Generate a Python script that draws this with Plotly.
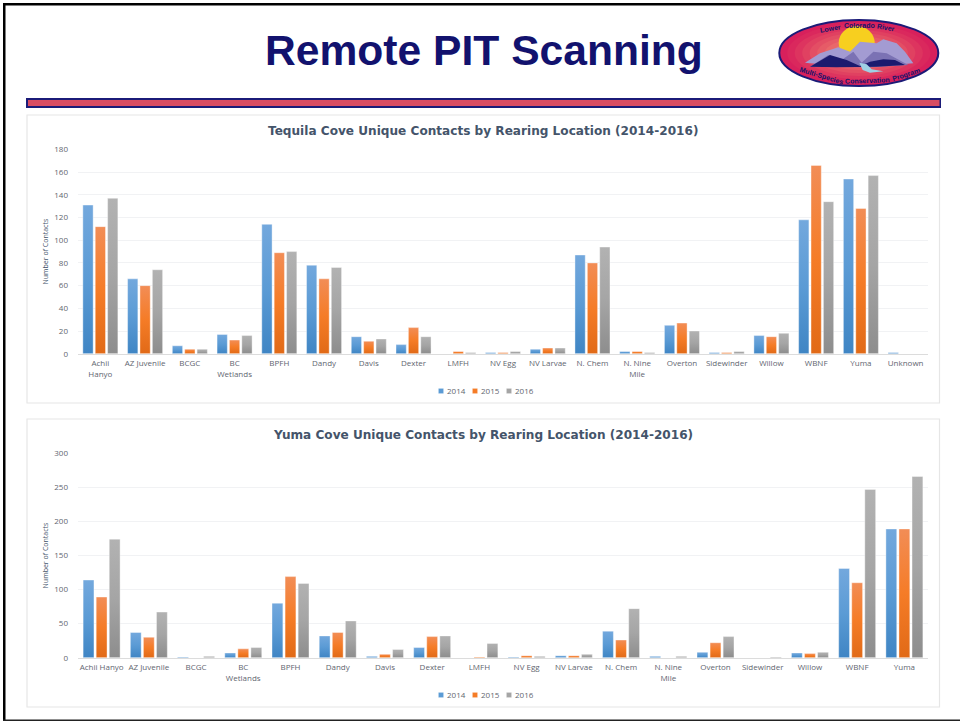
import plotly.graph_objects as go

W, H = 960, 721

YEARS = ["2014", "2015", "2016"]
BASE_COLORS = ["#5b9bd5", "#f57c27", "#a5a5a5"]

TEQUILA_CATS = ["Achii<br>Hanyo", "AZ Juvenile", "BCGC", "BC<br>Wetlands", "BPFH", "Dandy", "Davis", "Dexter",
                "LMFH", "NV Egg", "NV Larvae", "N. Chem", "N. Nine<br>Mile", "Overton", "Sidewinder",
                "Willow", "WBNF", "Yuma", "Unknown"]
TEQUILA_2014 = [131, 66, 7, 17, 114, 78, 15, 8, 0, 1, 4, 87, 2, 25, 1, 16, 118, 154, 1]
TEQUILA_2015 = [112, 60, 4, 12, 89, 66, 11, 23, 2, 1, 5, 80, 2, 27, 1, 15, 166, 128, 0]
TEQUILA_2016 = [137, 74, 4, 16, 90, 76, 13, 15, 1, 2, 5, 94, 1, 20, 2, 18, 134, 157, 0]

YUMA_CATS = ["Achii Hanyo", "AZ Juvenile", "BCGC", "BC<br>Wetlands", "BPFH", "Dandy", "Davis", "Dexter",
             "LMFH", "NV Egg", "NV Larvae", "N. Chem", "N. Nine<br>Mile", "Overton", "Sidewinder",
             "Willow", "WBNF", "Yuma"]
YUMA_2014 = [114, 37, 1, 7, 80, 32, 2, 15, 0, 1, 3, 39, 2, 8, 0, 7, 131, 189]
YUMA_2015 = [89, 30, 0, 13, 119, 37, 5, 31, 1, 3, 3, 26, 0, 22, 0, 6, 110, 189]
YUMA_2016 = [174, 67, 2, 15, 109, 54, 12, 32, 21, 2, 5, 72, 2, 31, 1, 8, 247, 266]

MAIN_TITLE = "Remote PIT Scanning"
TITLE_1 = "Tequila Cove Unique Contacts by Rearing Location (2014-2016)"
TITLE_2 = "Yuma Cove Unique Contacts by Rearing Location (2014-2016)"
Y_TITLE = "Number of Contacts"

FONT = "Open Sans"
INK = "#5f6670"
HEAD = "#44546a"


def px(x):
    return x / W


def py(y):
    return 1 - y / H


fig = go.Figure()
for name, color, vals in zip(YEARS, BASE_COLORS, [TEQUILA_2014, TEQUILA_2015, TEQUILA_2016]):
    fig.add_bar(x=TEQUILA_CATS, y=vals, name=name, marker=dict(color=color, line=dict(color="rgba(255,255,255,.55)", width=0.7)),
                xaxis="x", yaxis="y", legend="legend")
for name, color, vals in zip(YEARS, BASE_COLORS, [YUMA_2014, YUMA_2015, YUMA_2016]):
    fig.add_bar(x=YUMA_CATS, y=vals, name=name, marker=dict(color=color, line=dict(color="rgba(255,255,255,.55)", width=0.7)),
                xaxis="x2", yaxis="y2", legend="legend2")

shapes = []


def rect(x0, y0, x1, y1, fill, line=None, lw=0, layer="below"):
    shapes.append(dict(type="rect", xref="paper", yref="paper", x0=px(x0), x1=px(x1), y0=py(y1), y1=py(y0),
                       fillcolor=fill, line=dict(color=line or fill, width=lw), layer=layer))


def ellipse(cx, cy, rx, ry, fill, line=None, lw=0):
    shapes.append(dict(type="circle", xref="paper", yref="paper", x0=px(cx - rx), x1=px(cx + rx),
                       y0=py(cy + ry), y1=py(cy - ry), fillcolor=fill,
                       line=dict(color=line or fill, width=lw), layer="above"))


def zoomx(z):
    return 770 + z / 3


def zoomy(z):
    return 10 + z / 3


def poly(points, fill):
    # logo polygons use paper coordinates derived from pixel positions
    path = "M " + " L ".join(f"{px(zoomx(a)):.5f} {py(zoomy(b)):.5f}" for a, b in points) + " Z"
    shapes.append(dict(type="path", xref="paper", yref="paper", path=path, fillcolor=fill,
                       line=dict(width=0), layer="above"))


# slide frame
rect(3, 3, 5.5, 721, "#000000")
rect(3, 3, 960, 5.5, "#000000")
rect(3, 719.6, 960, 721, "#222222")
# banner
rect(26, 98, 941, 108, "#1b1b78")
rect(28, 100, 939.5, 106, "#d94c62")
# chart panels
rect(27, 115, 939.5, 403, "#ffffff", "#e6e6e6", 1.2)
rect(27, 419, 939.5, 707, "#ffffff", "#e6e6e6", 1.2)

# logo: red rim fading to a salmon centre
ellipse(858.8, 53, 79.5, 33, "#d8205c", "#1b1b78", 2)
LOGO_RAMP = ["#da285d", "#dd345f", "#e04161", "#e34e64", "#e65b67", "#e9686a", "#eb736c", "#ed7d6e"]
for i, c in enumerate(LOGO_RAMP):
    f = 1 - (i + 1) / (len(LOGO_RAMP) + 1) * 0.85
    ellipse(858.8, 53, 79 * f, 32 * f, c)
ellipse(856.7, 43, 18, 17, "#f7cf1f")
poly([(105, 158), (150, 130), (205, 112), (240, 125), (270, 95), (320, 100), (340, 88), (380, 100),
      (405, 125), (430, 160), (300, 170), (180, 165)], "#a39bd2")
poly([(120, 170), (175, 135), (215, 150), (250, 125), (275, 158), (310, 125), (350, 130), (415, 165),
      (300, 172)], "#7b72b4")
poly([(120, 170), (180, 135), (230, 150), (270, 168), (300, 155), (340, 148), (375, 150), (405, 165),
      (320, 170), (200, 172)], "#1c1a6e")
poly([(268, 158), (290, 163), (305, 178), (340, 184), (300, 188), (278, 180)], "#9fd0e4")

LOGO_WORDS = [("Lower", 181, 55, -10), ("Colorado", 267, 47, 0), ("River", 347, 53, 10),
              ("Multi-Species", 153, 197, 17), ("Conservation", 292, 212, -2), ("Program", 408, 196, -18)]

annotations = [
    dict(text=MAIN_TITLE, x=px(484), y=py(50), xref="paper", yref="paper", showarrow=False,
         xanchor="center", yanchor="middle",
         font=dict(family="Liberation Sans", size=42.6, color="#12126e", weight="bold")),
    dict(text=TITLE_1, x=px(483), y=py(131), xref="paper", yref="paper", showarrow=False,
         xanchor="center", yanchor="middle",
         font=dict(family="DejaVu Sans", size=12.1, color=HEAD, weight="bold")),
    dict(text=TITLE_2, x=px(483), y=py(435), xref="paper", yref="paper", showarrow=False,
         xanchor="center", yanchor="middle",
         font=dict(family="DejaVu Sans", size=12.1, color=HEAD, weight="bold")),
]
for word, zx, zy, rot in LOGO_WORDS:
    annotations.append(dict(text=word, x=px(zoomx(zx)), y=py(zoomy(zy)), xref="paper", yref="paper", showarrow=False,
                            xanchor="center", yanchor="middle", textangle=rot,
                            font=dict(family="Liberation Sans", size=7, color="#14146a", weight="bold")))

x_common = dict(type="category", tickangle=0, tickfont=dict(family=FONT, size=8, color=INK),
                showline=True, linecolor="#dcdcdc", linewidth=1, ticks="", showgrid=False, zeroline=False,
                ticklabelstandoff=2)
y_common = dict(tickfont=dict(family=FONT, size=8, color=INK), gridcolor="#f1f2f4", gridwidth=1,
                showline=False, zeroline=False, ticks="", ticklabelstandoff=9)

fig.update_layout(
    width=W, height=H, margin=dict(l=0, r=0, t=0, b=0, autoexpand=False), paper_bgcolor="#ffffff", plot_bgcolor="rgba(0,0,0,0)",
    barmode="group", bargap=0.17, bargroupgap=0.17, shapes=shapes, annotations=annotations,
    xaxis=dict(domain=[px(78), px(928)], anchor="y", **x_common),
    yaxis=dict(domain=[py(353.7), py(149.5)], anchor="x", range=[0, 180], dtick=20,
               title=dict(text=Y_TITLE, font=dict(family=FONT, size=7, color=HEAD), standoff=4), **y_common),
    xaxis2=dict(domain=[px(78), px(928)], anchor="y2", **x_common),
    yaxis2=dict(domain=[py(657.7), py(453.3)], anchor="x2", range=[0, 300], dtick=50,
                title=dict(text=Y_TITLE, font=dict(family=FONT, size=7, color=HEAD), standoff=4), **y_common),
    legend=dict(orientation="h", x=px(425), y=py(391), xanchor="left", yanchor="middle",
                font=dict(family=FONT, size=8, color=INK), bgcolor="rgba(0,0,0,0)"),
    legend2=dict(orientation="h", x=px(425), y=py(695), xanchor="left", yanchor="middle",
                 font=dict(family=FONT, size=8, color=INK), bgcolor="rgba(0,0,0,0)"),
    showlegend=True,
)

POST = r"""
document.documentElement.style.margin='0';
document.body.style.margin='0';
document.body.style.background='#fff';
var svg=document.querySelector('svg.main-svg');
var NS='http://www.w3.org/2000/svg';
var defs=svg.querySelector('defs')||svg.insertBefore(document.createElementNS(NS,'defs'),svg.firstChild);
var stops=[['#73a8dd','#5b9bd5','#3f85c4'],['#f28d56','#f57c27','#e16a17'],['#b2b2b2','#a5a5a5','#8d8d8d']];
stops.forEach(function(s,i){
  var g=document.createElementNS(NS,'linearGradient');
  g.setAttribute('id','bargrad'+i);g.setAttribute('x1','0');g.setAttribute('y1','0');g.setAttribute('x2','0');g.setAttribute('y2','1');
  s.forEach(function(c,j){var t=document.createElementNS(NS,'stop');t.setAttribute('offset',(j/2*100)+'%');t.setAttribute('stop-color',c);g.appendChild(t);});
  defs.appendChild(g);
});
function restyle(){
  document.querySelectorAll('.barlayer').forEach(function(layer){
    layer.querySelectorAll('.trace.bars').forEach(function(tr,i){
      tr.querySelectorAll('.point path').forEach(function(p){p.style.fill='url(#bargrad'+(i%3)+')';p.style.fillOpacity=1;});
    });
  });
  document.querySelectorAll('g.legend, g.legend2').forEach(function(leg){
    leg.querySelectorAll('.traces').forEach(function(tr,i){
      var m=(tr.getAttribute('transform')||'').match(/translate\(([^,]+),\s*([^)]+)\)/);
      var y=m?parseFloat(m[2]):0;
      tr.setAttribute('transform','translate('+(10+34*i)+','+y+')');
      tr.querySelectorAll('.legendpoints path').forEach(function(p){
        p.setAttribute('transform','translate(6,0) scale(0.42)');
      });
      var t=tr.querySelector('text');
      if(t){t.setAttribute('x','12');}
    });
  });
}
restyle();
setTimeout(restyle,30);
setTimeout(restyle,200);
"""

fig.write_html("out.html", post_script=POST, config={"displayModeBar": False})
